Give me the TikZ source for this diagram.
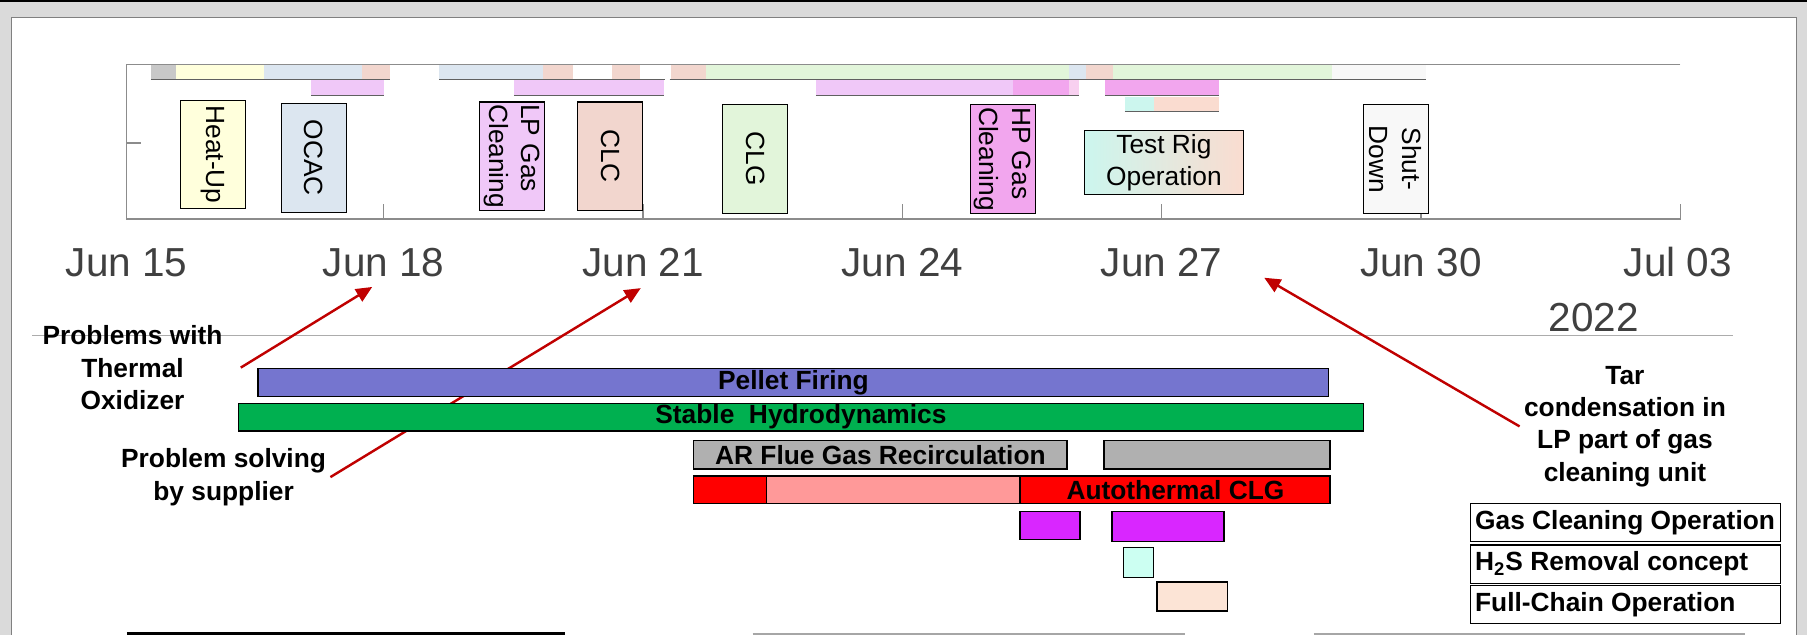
\documentclass[tikz,border=0pt]{standalone}
\usepackage{fontspec}
\setmainfont{Liberation Sans}
\usetikzlibrary{arrows.meta}
\definecolor{frame}{HTML}{DADADA}
\definecolor{rim}{HTML}{808080}
\definecolor{axisgray}{HTML}{404040}
\definecolor{tick}{HTML}{8C8C8C}
\definecolor{warm}{HTML}{C8C8C8}
\definecolor{heat}{HTML}{FFFFDC}
\definecolor{ocac}{HTML}{DCE6F0}
\definecolor{clc}{HTML}{F2D6CE}
\definecolor{clg}{HTML}{E2F5DA}
\definecolor{lpgas}{HTML}{F0C8F8}
\definecolor{hpgas}{HTML}{F2A6EE}
\definecolor{hplight}{HTML}{F8D0F0}
\definecolor{rigcyan}{HTML}{CCF6EE}
\definecolor{rigpeach}{HTML}{FADCD0}
\definecolor{shut}{HTML}{F8F8F8}
\definecolor{pellet}{HTML}{7575CF}
\definecolor{hydro}{HTML}{00B050}
\definecolor{flue}{HTML}{B0B0B0}
\definecolor{auto}{HTML}{FF0000}
\definecolor{autolight}{HTML}{FF9999}
\definecolor{gasclean}{HTML}{D926FF}
\definecolor{htwos}{HTML}{CCFFF2}
\definecolor{chain}{HTML}{FCE4D6}
\definecolor{note}{HTML}{C00000}

\begin{document}
\begin{tikzpicture}[x=0.02cm,y=-0.02cm,
  axis/.style={draw=tick,line width=.6pt},
  under/.style={draw=gray!75!black,line width=.7pt},
  phase/.style={draw=black,line width=.5pt,inner sep=0pt,font=\fontsize{13}{16}\selectfont},
  vphase/.style={phase,rotate=-90,minimum width=1.88cm,minimum height=1.13cm},
  date/.style={font=\fontsize{20}{24}\selectfont,text=axisgray,anchor=base},
  bar/.style={draw=black,line width=.7pt},
  barlabel/.style={font=\bfseries\fontsize{13}{16}\selectfont,inner sep=0pt},
  remark/.style={font=\bfseries\fontsize{13}{16}\selectfont,align=center,inner sep=2pt},
  legend/.style={draw=black,line width=.6pt,font=\bfseries\fontsize{13}{16}\selectfont,
                 inner xsep=.08cm,minimum width=5.38cm,minimum height=.62cm},
  pointer/.style={note,line width=1.2pt,-{Triangle[length=8pt,width=7pt]}}]
  \useasboundingbox (0,0) rectangle (1568,551);
  \fill[frame] (0,0) rectangle (1568,551);
  \draw[black,line width=1.2pt] (0,1) -- (1568,1);
  \fill[white] (10,15) rectangle (1559,551);
  \draw[rim,line width=.5pt] (10,551) -- (10,15) -- (1559,15) -- (1559,551);

  \fill[warm] (131,56) rectangle (153,69); \fill[heat] (153,56) rectangle (229,69);
  \fill[ocac] (229,56) rectangle (314,69); \fill[clc] (314,56) rectangle (338,69);
  \fill[ocac] (381,56) rectangle (471,69); \fill[clc] (471,56) rectangle (497,69);
  \fill[clc] (531,56) rectangle (555,69); \fill[clc] (582,56) rectangle (613,69);
  \fill[clg] (613,56) rectangle (928,69); \fill[ocac] (928,56) rectangle (942,69);
  \fill[clc] (942,56) rectangle (966,69); \fill[clg] (966,56) rectangle (1156,69);
  \fill[shut] (1156,56) rectangle (1237,69);
  \fill[lpgas] (270,69) rectangle (333,83); \fill[lpgas] (446,69) rectangle (576,83);
  \fill[lpgas] (708,69) rectangle (879,83); \fill[hpgas] (879,69) rectangle (928,83);
  \fill[hplight] (928,69) rectangle (936,83); \fill[hpgas] (959,69) rectangle (1058,83);
  \fill[rigcyan] (976,84) rectangle (1001,97); \fill[rigpeach] (1001,84) rectangle (1058,97);
  \draw[under] (131,69) -- (338,69) (381,69) -- (577,69) (581,69) -- (1237,69);
  \draw[under] (270,83) -- (333,83) (446,83) -- (576,83) (708,83) -- (936,83) (959,83) -- (1058,83);
  \draw[under] (976,97) -- (1058,97);

  \draw[axis] (1458,56) -- (110,56) -- (110,190) -- (1458,190) -- (1458,177);
  \draw[axis] (110,124) -- (122,124);
  \draw[axis] (333,190) -- (333,177) (558,190) -- (558,177) (783,190) -- (783,177);
  \draw[axis] (1008,190) -- (1008,177) (1233,190) -- (1233,177);

  \node[vphase,fill=heat] (heatup) at (185,134) {Heat-Up};
  \node[vphase,fill=ocac] (ocac) at (272.5,137) {OCAC};
  \node[vphase,fill=lpgas,align=left] (lpgas) at (444.5,135.5) {LP Gas\\Cleaning};
  \node[vphase,fill=clc] (clc) at (529.5,135.5) {CLC};
  \node[vphase,fill=clg] (clg) at (655.5,138) {CLG};
  \node[vphase,fill=hpgas,align=left] (hpgas) at (870,138) {HP Gas\\Cleaning};
  \node[phase,left color=rigcyan,right color=rigpeach,minimum width=2.76cm,
        minimum height=1.12cm,align=center] (rig) at (1010,141) {Test Rig\\Operation};
  \node[vphase,fill=shut,align=center] (shutdown) at (1211,138) {Shut-\\Down};

  \node[date] (jun15) at (110,240) {Jun 15};
  \node[date] (jun18) at (333,240) {Jun 18};
  \node[date] (jun21) at (558,240) {Jun 21};
  \node[date] (jun24) at (783,240) {Jun 24};
  \node[date] (jun27) at (1008,240) {Jun 27};
  \node[date] (jun30) at (1233,240) {Jun 30};
  \node[date] (jul03) at (1456,240) {Jul 03};
  \node[date] (year) at (1383,288) {2022};
  \draw[gray!65,line width=.6pt] (28,291) -- (1504,291);

  \node[remark] (thermal) at (115,319) {Problems with\\Thermal\\Oxidizer};
  \node[remark] (supplier) at (194,414) {Problem solving\\by supplier};
  \node[remark] (tar) at (1410,370) {Tar\\condensation in\\LP part of gas\\cleaning unit};
  \coordinate (at18) at (323,249);
  \coordinate (at21) at (556,250);
  \coordinate (at27) at (1097,241);
  \draw[pointer] ([xshift=.24cm]thermal.east) -- (at18);
  \draw[pointer] (supplier.east) -- (at21);
  \draw[pointer] (tar.west) -- (at27);

  \draw[bar,fill=pellet] (224,320) rectangle (1153,344);
  \node[barlabel] (pellet) at (688.5,332) {Pellet Firing};
  \draw[bar,fill=hydro] (207,350) rectangle (1183,374);
  \node[barlabel] (hydro) at (695,362) {Stable\ \ Hydrodynamics};
  \draw[bar,fill=flue] (602,382) rectangle (926,407);
  \node[barlabel] (flue) at (764,394.5) {AR Flue Gas Recirculation};
  \draw[bar,fill=flue] (958,382) rectangle (1154,407);
  \draw[bar,fill=auto] (602,413) rectangle (665,437);
  \draw[bar,fill=autolight] (665,413) rectangle (885,437);
  \draw[bar,fill=auto] (885,413) rectangle (1154,437);
  \node[barlabel] (autoclg) at (1020,425) {Autothermal CLG};
  \draw[bar,fill=gasclean] (885,444) rectangle (937,468);
  \draw[bar,fill=gasclean] (965,444) rectangle (1062,470);
  \draw[bar,fill=htwos] (975,475) rectangle (1001,501);
  \draw[bar,fill=chain] (1004,505) rectangle (1065,530);

  \node[legend] (legclean) at (1410.5,453.5) {\makebox[5.22cm][l]{Gas Cleaning Operation}};
  \node[legend] (legh2s) at (1410.5,489.5) {\makebox[5.22cm][l]{H\textsubscript{2}S Removal concept}};
  \node[legend] (legchain) at (1410.5,524.5) {\makebox[5.22cm][l]{Full-Chain Operation}};

  \draw[black,line width=1.4pt] (110,550) -- (490,550);
  \draw[gray!70,line width=.8pt] (653,550) -- (1028,550) (1140,550) -- (1514,550);
\end{tikzpicture}
\end{document}
